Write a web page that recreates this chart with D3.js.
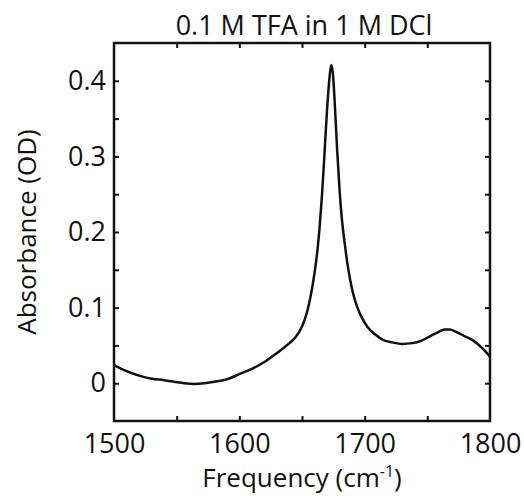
<!DOCTYPE html>
<html>
<head>
<meta charset="utf-8">
<script src="https://cdn.jsdelivr.net/npm/d3@7"></script>
<style>
  body { margin: 0; background: #fff; }
  text { font-family: "Open Sans", "Noto Sans", sans-serif; fill: #111; }
</style>
</head>
<body>
<div id="chart"></div>
<script>
var svgWidth = 524;
var svgHeight = 496;

var margin = { top: 43, right: 34, bottom: 75, left: 114 };
var width = svgWidth - margin.left - margin.right;
var height = svgHeight - margin.top - margin.bottom;

// spectrum
var freq = [1500, 1510, 1520, 1530, 1540, 1548, 1556, 1564, 1572, 1580, 1590, 1600,
            1610, 1620, 1630, 1640, 1645, 1650, 1654, 1657, 1660, 1662, 1664, 1666,
            1668, 1670, 1672, 1673.3, 1674.5, 1676, 1678, 1680, 1682, 1684, 1687,
            1690, 1694, 1698, 1702, 1708, 1715, 1722, 1730, 1738, 1745, 1752, 1758,
            1764, 1768, 1773, 1780, 1787, 1794, 1800];
var absorb = [0.024, 0.016, 0.010, 0.006, 0.004, 0.002, 0.000, -0.001, 0.000, 0.002, 0.005, 0.012,
              0.019, 0.028, 0.040, 0.053, 0.061, 0.075, 0.094, 0.116, 0.146, 0.171, 0.205, 0.250,
              0.305, 0.362, 0.405, 0.421, 0.412, 0.375, 0.310, 0.255, 0.214, 0.186, 0.150,
              0.124, 0.101, 0.086, 0.075, 0.065, 0.057, 0.054, 0.052, 0.053, 0.056, 0.062, 0.067,
              0.071, 0.071, 0.068, 0.062, 0.056, 0.046, 0.035];

var xTicks = [1500, 1600, 1700, 1800];
var xMinor = [1550, 1600, 1650, 1700, 1750];
var yTicks = [0, 0.1, 0.2, 0.3, 0.4];
var yMinor = [0, 0.05, 0.1, 0.15, 0.2, 0.25, 0.3, 0.35, 0.4];

var data = freq.map((f, i) => ({ f: f, a: absorb[i] }));

var svg = d3.select("#chart")
    .append("svg")
    .attr("width", svgWidth)
    .attr("height", svgHeight);

var chart = svg.append("g")
    .attr("transform", `translate(${margin.left}, ${margin.top})`);

var xScale = d3.scaleLinear().domain([1500, 1800]).range([0, width]);
var yScale = d3.scaleLinear().domain([-0.05, 0.45]).range([height, 0]);

// minor/major ticks on all four sides, pointing in
var tickLen = 5;
chart.append("g").attr("transform", `translate(0, ${height})`)
    .call(d3.axisBottom(xScale).tickValues(xMinor).tickSize(-tickLen).tickFormat(""));
chart.append("g")
    .call(d3.axisTop(xScale).tickValues(xMinor).tickSize(-tickLen).tickFormat(""));
chart.append("g")
    .call(d3.axisLeft(yScale).tickValues(yMinor).tickSize(-tickLen).tickFormat(""));
chart.append("g").attr("transform", `translate(${width}, 0)`)
    .call(d3.axisRight(yScale).tickValues(yMinor).tickSize(-tickLen).tickFormat(""));

chart.selectAll(".domain").remove();
chart.selectAll(".tick line").attr("stroke", "#111").attr("stroke-width", 2);

// tick labels
chart.append("g").attr("transform", `translate(0, ${height})`)
    .call(d3.axisBottom(xScale).tickValues(xTicks).tickSize(0).tickPadding(13)
        .tickFormat(d3.format("d")))
    .call(g => g.select(".domain").remove())
    .selectAll("text")
    .style("font-size", "27px");

chart.append("g")
    .call(d3.axisLeft(yScale).tickValues(yTicks).tickSize(0).tickPadding(8)
        .tickFormat(d => d === 0 ? "0" : d3.format(".1f")(d)))
    .call(g => g.select(".domain").remove())
    .selectAll("text")
    .style("font-size", "27px");

// frame
chart.append("rect")
    .attr("width", width)
    .attr("height", height)
    .attr("fill", "none")
    .attr("stroke", "#111")
    .attr("stroke-width", 2.5);

// spectrum
var line = d3.line()
    .x(d => xScale(d.f))
    .y(d => yScale(d.a))
    .curve(d3.curveMonotoneX);

chart.append("path")
    .datum(data)
    .attr("d", line)
    .attr("fill", "none")
    .attr("stroke", "#111")
    .attr("stroke-width", 2.5);

// title and axis labels
svg.append("text")
    .attr("x", 304)
    .attr("y", 35)
    .attr("text-anchor", "middle")
    .style("font-size", "27px")
    .text("0.1 M TFA in 1 M DCl");

var xl = svg.append("text")
    .attr("x", margin.left + width / 2)
    .attr("y", 487)
    .attr("text-anchor", "middle")
    .style("font-size", "26px");
xl.append("tspan").text("Frequency (cm");
xl.append("tspan").attr("dy", -10).style("font-size", "16px").text("-1");
xl.append("tspan").attr("dy", 10).text(")");

svg.append("text")
    .attr("transform", `translate(36, ${margin.top + height / 2}) rotate(-90)`)
    .attr("text-anchor", "middle")
    .style("font-size", "26px")
    .text("Absorbance (OD)");
</script>
</body>
</html>
